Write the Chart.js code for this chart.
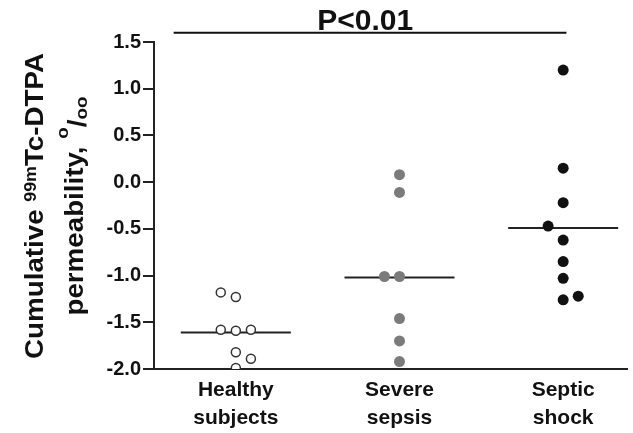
<!DOCTYPE html>
<html lang="en">
<head>
<meta charset="UTF-8">
<title>Cumulative 99mTc-DTPA permeability</title>
<style>
    html, body { margin: 0; padding: 0; background: #fff; }
    #wrap { width: 633px; height: 433px; }
</style>
</head>
<body>
<div id="wrap"><canvas id="dotChart" width="633" height="433"></canvas></div>
<script src="https://cdn.jsdelivr.net/npm/chart.js"></script>
<script>
// groups on the x axis
const groups = ['Healthy subjects', 'Severe sepsis', 'Septic shock'];
// y axis tick values
const yTicks = [-2.0, -1.5, -1.0, -0.5, 0.0, 0.5, 1.0, 1.5];

// individual values
const healthyValues = [-1.18, -1.23, -1.58, -1.59, -1.58, -1.82, -1.89, -1.99];
const severeValues = [0.08, -0.11, -1.01, -1.01, -1.46, -1.70, -1.92];
const shockValues = [1.20, 0.15, -0.22, -0.47, -0.62, -0.85, -1.03, -1.26, -1.22];

// which column a dot sits in when dots overlap (-1 left, 0 centre, 1 right)
const healthyCols = [-1, 0, -1, 0, 1, 0, 1, 0];
const severeCols = [0, 0, -1, 0, 0, 0, 0];
const shockCols = [0, 0, 0, -1, 0, 0, 0, 0, 1];

// median bars
const medians = [-1.61, -1.02, -0.49];

const pLabel = 'P<0.01';

const FONT = '"Liberation Sans", Arial, Helvetica, sans-serif';
const DOT_SPREAD = 0.092;
const BAR_HALF = 0.336;

function dots(values, cols, g) {
    return values.map((v, i) => ({ x: g + 1 + cols[i] * DOT_SPREAD, y: v }));
}
function medianBar(g) {
    return [{ x: g + 1 - BAR_HALF, y: medians[g] }, { x: g + 1 + BAR_HALF, y: medians[g] }];
}

// significance bar + y axis title (with super/subscripts)
const extras = {
    id: 'extras',
    afterDraw(chart) {
        const ctx = chart.ctx;
        const xs = chart.scales.x, ys = chart.scales.y;

        const yl = ys.getPixelForValue(1.6);
        ctx.save();
        ctx.strokeStyle = '#111';
        ctx.lineWidth = 2;
        ctx.beginPath();
        ctx.moveTo(xs.getPixelForValue(0.62), yl);
        ctx.lineTo(xs.getPixelForValue(3.02), yl);
        ctx.stroke();
        ctx.font = 'bold 30px ' + FONT;
        ctx.fillStyle = '#111';
        ctx.textAlign = 'center';
        ctx.textBaseline = 'alphabetic';
        ctx.fillText(pLabel, xs.getPixelForValue(1.79), yl - 3);
        ctx.restore();

        const titleLines = [
            { base: 43, parts: [['Cumulative ', 25, 0], ['99m', 16, -7], ['Tc-DTPA', 25, 0]] },
            { base: 83, parts: [['permeability, ', 25, 0], ['o', 17, -15], ['/', 25, 3], ['oo', 17, 4]] }
        ];
        const cy = 206, stretch = 1.11;
        titleLines.forEach(line => {
            let total = 0;
            line.parts.forEach(p => {
                ctx.font = 'bold ' + p[1] + 'px ' + FONT;
                total += ctx.measureText(p[0]).width;
            });
            ctx.save();
            ctx.translate(line.base, cy);
            ctx.rotate(-Math.PI / 2);
            ctx.scale(stretch, 1);
            ctx.fillStyle = '#111';
            ctx.textAlign = 'left';
            ctx.textBaseline = 'alphabetic';
            let pos = -total / 2;
            line.parts.forEach(p => {
                ctx.font = 'bold ' + p[1] + 'px ' + FONT;
                ctx.fillText(p[0], pos, p[2]);
                pos += ctx.measureText(p[0]).width;
            });
            ctx.restore();
        });
    }
};

new Chart(document.getElementById('dotChart'), {
    type: 'scatter',
    data: {
        datasets: [
            {
                label: groups[0],
                data: dots(healthyValues, healthyCols, 0),
                backgroundColor: '#fff',
                borderColor: '#333',
                borderWidth: 1.5,
                pointRadius: 4.5
            },
            {
                label: groups[1],
                data: dots(severeValues, severeCols, 1),
                backgroundColor: '#7b7b7b',
                borderWidth: 0,
                pointRadius: 5.5
            },
            {
                label: groups[2],
                data: dots(shockValues, shockCols, 2),
                backgroundColor: '#111',
                borderWidth: 0,
                pointRadius: 5.5
            },
            ...[0, 1, 2].map(g => ({
                label: 'median ' + groups[g],
                data: medianBar(g),
                showLine: true,
                borderColor: '#222',
                borderWidth: 2,
                pointRadius: 0
            }))
        ]
    },
    options: {
        responsive: false,
        animation: false,
        devicePixelRatio: 1,
        layout: { padding: { top: 42, right: 2, left: 0, bottom: 0 } },
        plugins: { legend: { display: false }, tooltip: { enabled: false } },
        scales: {
            x: {
                type: 'linear',
                min: 0.5,
                max: 3.39,
                afterBuildTicks: s => { s.ticks = groups.map((g, i) => ({ value: i + 1 })); },
                afterFit: s => { s.height = 64; },
                grid: { display: false, drawTicks: false },
                border: { display: true, color: '#222', width: 2 },
                ticks: {
                    autoSkip: false,
                    maxRotation: 0,
                    padding: 7,
                    color: '#111',
                    font: { family: FONT, size: 21, weight: 'bold', lineHeight: 1.33 },
                    callback: v => groups[v - 1].split(' ')
                }
            },
            y: {
                min: -2,
                max: 1.5,
                afterBuildTicks: s => { s.ticks = yTicks.map(v => ({ value: v })); },
                afterFit: s => { s.width = 154; },
                grid: { drawOnChartArea: false, drawTicks: true, tickLength: 11, color: '#222', lineWidth: 2 },
                border: { display: true, color: '#222', width: 2 },
                ticks: {
                    padding: 2,
                    color: '#111',
                    font: { family: FONT, size: 20, weight: 'bold' },
                    callback: v => v.toFixed(1)
                }
            }
        }
    },
    plugins: [extras]
});
</script>
</body>
</html>
